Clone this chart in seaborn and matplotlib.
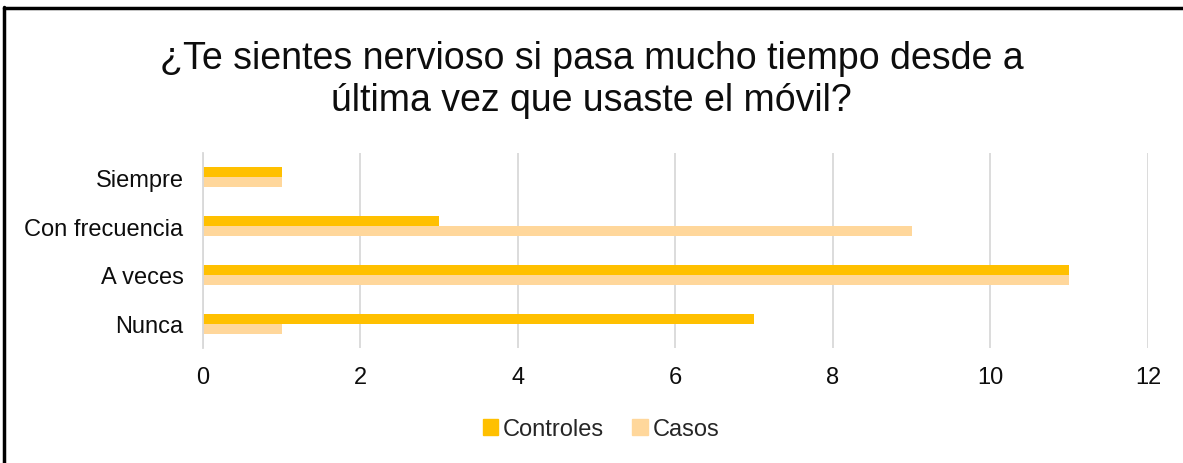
import pandas as pd
import matplotlib
matplotlib.use("Agg")
import matplotlib.pyplot as plt
import seaborn as sns
from matplotlib.lines import Line2D

# Data
categories = ["Siempre", "Con frecuencia", "A veces", "Nunca"]
controles = [1, 3, 11, 7]
casos = [1, 9, 11, 1]
series_names = ["Controles", "Casos"]
colors = ["#FFC000", "#FFD79B"]

df = pd.DataFrame({
    "categoria": categories * 2,
    "valor": controles + casos,
    "grupo": [series_names[0]] * len(categories) + [series_names[1]] * len(categories),
})

sns.set_style("white")
plt.rcParams["font.family"] = ["Liberation Sans", "DejaVu Sans"]

fig = plt.figure(figsize=(11.83, 4.64), dpi=100)
ax = fig.add_axes([0.1716, 0.247, 0.7988, 0.422])

sns.barplot(data=df, y="categoria", x="valor", hue="grupo", order=categories,
            hue_order=series_names, palette=colors, orient="h", width=0.42,
            saturation=1, linewidth=0, ax=ax, legend=True)

ax.set_xlim(0, 12)
ax.set_xticks(range(0, 13, 2))
ax.set_ylim(3.5, -0.5)
ax.xaxis.grid(True, color="#D9D9D9", linewidth=1.3)
ax.set_axisbelow(True)
for s in ["top", "right", "bottom"]:
    ax.spines[s].set_visible(False)
ax.spines["left"].set_color("#D9D9D9")
ax.spines["left"].set_linewidth(1.3)
ax.tick_params(axis="both", length=0, labelsize=17, colors="#0D0D0D")
ax.tick_params(axis="x", pad=13)
ax.tick_params(axis="y", pad=14)
ax.set_xlabel("")
ax.set_ylabel("")

ax.legend_.remove()
fig.legend(handles=[plt.Rectangle((0, 0), 1, 1, color=c) for c in colors],
           labels=series_names, loc="center", bbox_to_anchor=(0.508, 0.073),
           ncol=2, frameon=False, fontsize=17, handlelength=0.65, handleheight=0.65,
           handletextpad=0.2, columnspacing=1.2)

fig.text(0.5, 0.828, "¿Te sientes nervioso si pasa mucho tiempo desde a\núltima vez que usaste el móvil?",
         ha="center", va="center", fontsize=27, color="#0D0D0D", linespacing=1.2)

# frame edges visible in the screenshot
fig.add_artist(Line2D([0.003, 1.0], [0.981, 0.981], color="black", linewidth=2.5, transform=fig.transFigure))
fig.add_artist(Line2D([0.0035, 0.0035], [0.0, 0.983], color="black", linewidth=2.5, transform=fig.transFigure))

fig.savefig("out.png", dpi=100, facecolor="white")
